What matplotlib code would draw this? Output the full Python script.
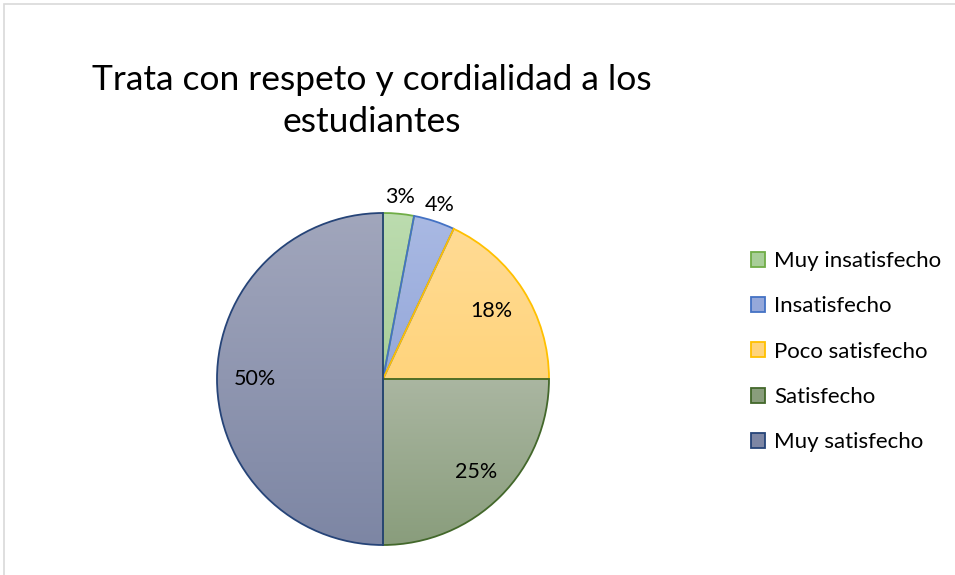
import matplotlib
matplotlib.use("Agg")
import matplotlib.pyplot as plt
import numpy as np
from matplotlib.colors import LinearSegmentedColormap
from matplotlib.patches import Rectangle

# Datos de la encuesta
categorias = ["Muy insatisfecho", "Insatisfecho", "Poco satisfecho", "Satisfecho", "Muy satisfecho"]
porcentajes = [3, 4, 18, 25, 50]
titulo = "Trata con respeto y cordialidad a los\nestudiantes"

# Degradado vertical (arriba, abajo) y borde de cada sector
color_arriba = ["#BCDCAF", "#A9B9E3", "#FFDB94", "#AAB6A1", "#A1A6BC"]
color_abajo = ["#A8CE98", "#95A8DA", "#FFD47C", "#899D7C", "#7D86A4"]
color_borde = ["#70AD47", "#4472C4", "#FFC000", "#43682B", "#264478"]
dist_etiqueta = [1.10, 1.10, 0.77, 0.79, 0.77]

W, H = 955, 575
fig = plt.figure(figsize=(W / 100, H / 100), dpi=100)
fig.patch.set_facecolor("white")

# Marco del área del gráfico
fig.patches.append(Rectangle((4 / W, -0.1), 1.2, 0.1 + (H - 4) / H, transform=fig.transFigure,
                             fill=False, edgecolor="#D9D9D9", linewidth=1.2))

cx, cy, r = 383, 379, 166
ax = fig.add_axes([(cx - r) / W, (H - cy - r) / H, 2 * r / W, 2 * r / H])
ax.axis("off")

wedges, _ = ax.pie(porcentajes, startangle=90, counterclock=False, radius=1,
                   wedgeprops={"linewidth": 1.3, "facecolor": "none"})

grad = np.linspace(0, 1, 256).reshape(-1, 1)
for w, top, bot, ec in zip(wedges, color_arriba, color_abajo, color_borde):
    w.set_edgecolor(ec)
    w.set_zorder(2)
    ext = w.get_path().get_extents()
    cmap = LinearSegmentedColormap.from_list("g", [top, bot])
    im = ax.imshow(grad, cmap=cmap, extent=(ext.x0, ext.x1, ext.y0, ext.y1),
                   origin="upper", aspect="auto", zorder=1)
    im.set_clip_path(w)

ax.set_xlim(-1, 1)
ax.set_ylim(-1, 1)
ax.set_aspect("equal")

# Etiquetas de porcentaje
for w, p, d in zip(wedges, porcentajes, dist_etiqueta):
    ang = np.deg2rad((w.theta1 + w.theta2) / 2)
    ax.text(d * np.cos(ang), d * np.sin(ang), f"{p}%", ha="center", va="center",
            fontsize=15.5, family="Lato", color="#000000", clip_on=False, zorder=3)

fig.text(372 / W, 1 - 101 / H, titulo, ha="center", va="center", fontsize=25.5,
         family="Lato", color="#000000", linespacing=1.42)

handles = [Rectangle((0, 0), 1, 1, facecolor=(t), edgecolor=e, linewidth=1.3)
           for t, e in zip(color_abajo, color_borde)]
fig.legend(handles, categorias, loc="upper left", bbox_to_anchor=(742 / W, 1 - 242 / H),
           frameon=False, prop={"family": "Lato", "size": 16}, labelspacing=1.14,
           handlelength=0.65, handleheight=0.65, handletextpad=0.4, borderaxespad=0)

fig.savefig("out.png", dpi=100, facecolor="white")
